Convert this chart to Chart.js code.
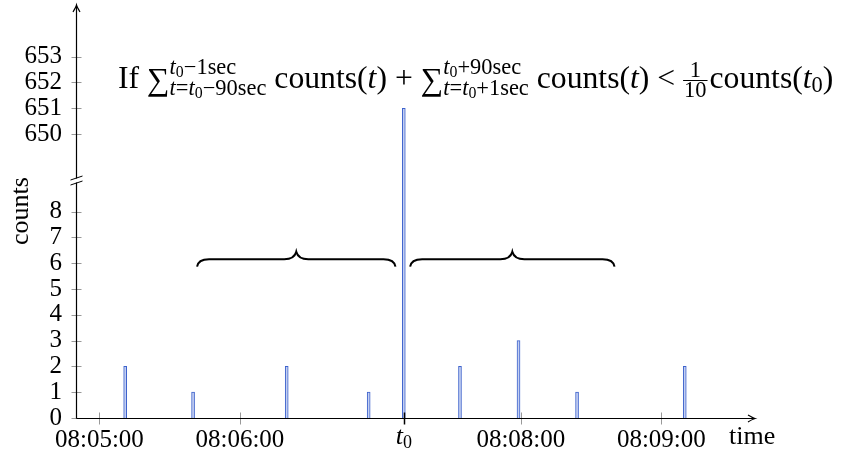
<!DOCTYPE html>
<html lang="en">
<head>
<meta charset="UTF-8">
<title>counts around t0</title>
<script src="https://cdn.jsdelivr.net/npm/chart.js@4"></script>
<style>
    html, body { margin: 0; padding: 0; background: #fff; }
    #wrap { width: 841px; height: 456px; }
</style>
</head>
<body>
<div id="wrap"><canvas id="grafico"></canvas></div>
<script>
    // dados
    const horarios = ['08:05:11', '08:05:40', '08:06:20', '08:06:55', '08:07:10', '08:07:34', '08:07:59', '08:08:24', '08:09:10'];
    const contagens = [2, 1, 2, 1, 651, 2, 3, 1, 2];
    const t0 = '08:07:10';
    const inicioEixo = '08:04:50';
    const fimEixo = '08:09:40';
    const rotulosX = ['08:05:00', '08:06:00', 't0', '08:08:00', '08:09:00'];
    const ticksBaixos = [0, 1, 2, 3, 4, 5, 6, 7, 8];
    const ticksAltos = [650, 651, 652, 653];
    const janela = 90; // segundos antes / depois de t0

    const fonte = '"Liberation Serif", "DejaVu Serif", serif';

    // segundos desde 08:05:00
    function seg(h) {
        const p = h.split(':').map(Number);
        return p[0] * 3600 + p[1] * 60 + p[2] - (8 * 3600 + 5 * 60);
    }

    // eixo y quebrado: 650 fica logo acima de 8 (posicao 11)
    const salto = 639;
    function eixoY(v) { return v >= 650 ? v - salto : v; }
    function valorY(p) { return p >= 11 ? p + salto : p; }

    const pontos = horarios.map((h, i) => ({ x: seg(h), y: eixoY(contagens[i]) }));

    // formula do topo
    const B = 24, S = 17, SS = 12;
    const formula = [
        { t: 'If ', s: B },
        { t: '\u2211', s: B, dy: 2 },
        { sup: [{ t: 't', s: S, i: 1 }, { t: '0', s: SS, dy: 3 }, { t: '\u22121sec', s: S }],
          sub: [{ t: 't', s: S, i: 1 }, { t: '=', s: S }, { t: 't', s: S, i: 1 }, { t: '0', s: SS, dy: 3 }, { t: '\u221290sec', s: S }] },
        { t: ' counts(', s: B }, { t: 't', s: B, i: 1 }, { t: ') + ', s: B },
        { t: '\u2211', s: B, dy: 2 },
        { sup: [{ t: 't', s: S, i: 1 }, { t: '0', s: SS, dy: 3 }, { t: '+90sec', s: S }],
          sub: [{ t: 't', s: S, i: 1 }, { t: '=', s: S }, { t: 't', s: S, i: 1 }, { t: '0', s: SS, dy: 3 }, { t: '+1sec', s: S }] },
        { t: ' counts(', s: B }, { t: 't', s: B, i: 1 }, { t: ') < ', s: B },
        { frac: { num: [{ t: '1', s: S }], den: [{ t: '10', s: S }] } },
        { t: 'counts(', s: B }, { t: 't', s: B, i: 1 }, { t: '0', s: S, dy: 4 }, { t: ')', s: B }
    ];

    function corrida(ctx, x, y, partes, k, desenhar) {
        let w = 0;
        for (const p of partes) {
            ctx.font = (p.i ? 'italic ' : '') + (p.s * k) + 'px ' + fonte;
            if (desenhar) ctx.fillText(p.t, x + w, y + (p.dy || 0));
            w += ctx.measureText(p.t).width;
        }
        return w;
    }

    function montarFormula(ctx, x, y, k, desenhar) {
        let w = 0;
        for (const item of formula) {
            if (item.sup) {
                const a = corrida(ctx, x + w, y - 14, item.sup, k, desenhar);
                const b = corrida(ctx, x + w, y + 7, item.sub, k, desenhar);
                w += Math.max(a, b);
            } else if (item.frac) {
                const a = corrida(ctx, 0, 0, item.frac.num, k, false);
                const b = corrida(ctx, 0, 0, item.frac.den, k, false);
                const l = Math.max(a, b) + 2;
                if (desenhar) {
                    corrida(ctx, x + w + (l - a) / 2, y - 11, item.frac.num, k, true);
                    corrida(ctx, x + w + (l - b) / 2, y + 9, item.frac.den, k, true);
                    ctx.fillRect(x + w, y - 8, l, 1);
                }
                w += l + 2;
            } else {
                w += corrida(ctx, x + w, y, [item], k, desenhar);
            }
        }
        return w;
    }

    function seta(ctx, x, y, ang) {
        ctx.save();
        ctx.translate(x, y);
        ctx.rotate(ang);
        ctx.beginPath();
        ctx.moveTo(-7, -3.5);
        ctx.quadraticCurveTo(-2, -0.5, 0, 0);
        ctx.quadraticCurveTo(-2, 0.5, -7, 3.5);
        ctx.stroke();
        ctx.restore();
    }

    function chave(ctx, x1, x2, y) {
        const m = (x1 + x2) / 2;
        const yf = y - 7.5, yt = y - 15;
        ctx.beginPath();
        ctx.moveTo(x1, y);
        ctx.quadraticCurveTo(x1 + 1, yf, x1 + 12, yf);
        ctx.lineTo(m - 12, yf);
        ctx.quadraticCurveTo(m - 2, yf, m, yt);
        ctx.quadraticCurveTo(m + 2, yf, m + 12, yf);
        ctx.lineTo(x2 - 12, yf);
        ctx.quadraticCurveTo(x2 - 1, yf, x2, y);
        ctx.stroke();
    }

    const extras = {
        id: 'extras',
        afterDraw(chart) {
            const ctx = chart.ctx;
            const xs = chart.scales.x, ys = chart.scales.y;
            const area = chart.chartArea;
            const x0 = Math.round(area.left) + 0.5;
            const y0 = Math.round(area.bottom) + 0.5;
            ctx.save();

            // marcas dos ticks
            ctx.lineWidth = 1;
            ctx.strokeStyle = '#999';
            ys.ticks.forEach(t => {
                const py = Math.round(ys.getPixelForValue(t.value)) + 0.5;
                ctx.beginPath(); ctx.moveTo(x0 - 5, py); ctx.lineTo(x0 + 5, py); ctx.stroke();
            });
            xs.ticks.forEach(t => {
                const px = Math.round(xs.getPixelForValue(t.value)) + 0.5;
                ctx.strokeStyle = t.value === seg(t0) ? '#000' : '#999';
                ctx.lineWidth = t.value === seg(t0) ? 1.5 : 1;
                ctx.beginPath(); ctx.moveTo(px, y0 - 6); ctx.lineTo(px, y0 + 6); ctx.stroke();
            });

            // eixos com setas
            ctx.strokeStyle = '#000';
            ctx.lineWidth = 1.2;
            ctx.beginPath();
            ctx.moveTo(x0, y0); ctx.lineTo(x0, area.top + 1);
            ctx.moveTo(x0, y0); ctx.lineTo(area.right - 1, y0);
            ctx.stroke();
            seta(ctx, x0, area.top, -Math.PI / 2);
            seta(ctx, area.right, y0, 0);

            // quebra do eixo y
            const yq = ys.getPixelForValue(9.2);
            ctx.fillStyle = '#fff';
            ctx.fillRect(x0 - 3, yq - 2, 6, 4);
            ctx.lineWidth = 1;
            ctx.beginPath();
            ctx.moveTo(x0 - 6, yq - 0.5); ctx.lineTo(x0 + 6, yq - 4.5);
            ctx.moveTo(x0 - 6, yq + 4.5); ctx.lineTo(x0 + 6, yq + 0.5);
            ctx.stroke();

            // chaves sobre as janelas de 90 s
            ctx.lineWidth = 2;
            const yc = ys.getPixelForValue(6) + 3.6;
            chave(ctx, xs.getPixelForValue(seg(t0) - janela) + 4, xs.getPixelForValue(seg(t0) - 1) - 6, yc);
            chave(ctx, xs.getPixelForValue(seg(t0) + 1) + 4, xs.getPixelForValue(seg(t0) + janela), yc);

            // rotulo t0
            ctx.fillStyle = '#000';
            ctx.textBaseline = 'alphabetic';
            ctx.textAlign = 'left';
            ctx.font = 'italic 26px ' + fonte;
            const wt = ctx.measureText('t').width;
            ctx.font = '18px ' + fonte;
            const wz = ctx.measureText('0').width;
            const pt = xs.getPixelForValue(seg(t0)) - (wt + wz) / 2;
            ctx.font = 'italic 26px ' + fonte;
            ctx.fillText('t', pt, 444);
            ctx.font = '18px ' + fonte;
            ctx.fillText('0', pt + wt, 448);

            // titulos dos eixos
            ctx.font = '26px ' + fonte;
            ctx.fillText('time', 729, 444);
            ctx.save();
            ctx.translate(28, 211);
            ctx.rotate(-Math.PI / 2);
            ctx.textAlign = 'center';
            ctx.fillText('counts', 0, 0);
            ctx.restore();

            // formula
            const w1 = montarFormula(ctx, 0, 0, 1, false);
            const k = 717 / w1;
            montarFormula(ctx, 118, 88, k, true);

            ctx.restore();
        }
    };

    new Chart(document.getElementById('grafico'), {
        type: 'bar',
        data: {
            datasets: [{
                label: 'counts',
                data: pontos,
                backgroundColor: '#c3cff2',
                borderColor: '#3d62cc',
                borderWidth: 1,
                barThickness: 3
            }]
        },
        options: {
            responsive: true,
            maintainAspectRatio: false,
            animation: false,
            events: [],
            layout: { padding: { top: 5, right: 86, left: 0, bottom: 0 } },
            plugins: { legend: { display: false }, tooltip: { enabled: false } },
            scales: {
                x: {
                    type: 'linear',
                    offset: false,
                    min: seg(inicioEixo),
                    max: seg(fimEixo),
                    grid: { display: false, drawTicks: false },
                    border: { display: false },
                    afterBuildTicks(scale) {
                        scale.ticks = rotulosX.map(r => ({ value: r === 't0' ? seg(t0) : seg(r) }));
                    },
                    afterFit(scale) {
                        scale.height = 38;
                        scale.paddingLeft = 0;
                        scale.paddingRight = 0;
                    },
                    ticks: {
                        padding: 7,
                        maxRotation: 0,
                        autoSkip: false,
                        color: '#000',
                        font: { family: fonte, size: 25 },
                        callback: (v, i) => rotulosX[i] === 't0' ? '' : rotulosX[i]
                    }
                },
                y: {
                    min: 0,
                    max: 16,
                    grid: { display: false, drawTicks: false },
                    border: { display: false },
                    afterBuildTicks(scale) {
                        scale.ticks = ticksBaixos.concat(ticksAltos).map(v => ({ value: eixoY(v) }));
                    },
                    afterFit(scale) {
                        scale.width = 76;
                        scale.paddingTop = 0;
                        scale.paddingBottom = 0;
                    },
                    ticks: {
                        padding: 14,
                        autoSkip: false,
                        color: '#000',
                        font: { family: fonte, size: 25 },
                        callback: v => String(valorY(v))
                    }
                }
            }
        },
        plugins: [extras]
    });
</script>
</body>
</html>
